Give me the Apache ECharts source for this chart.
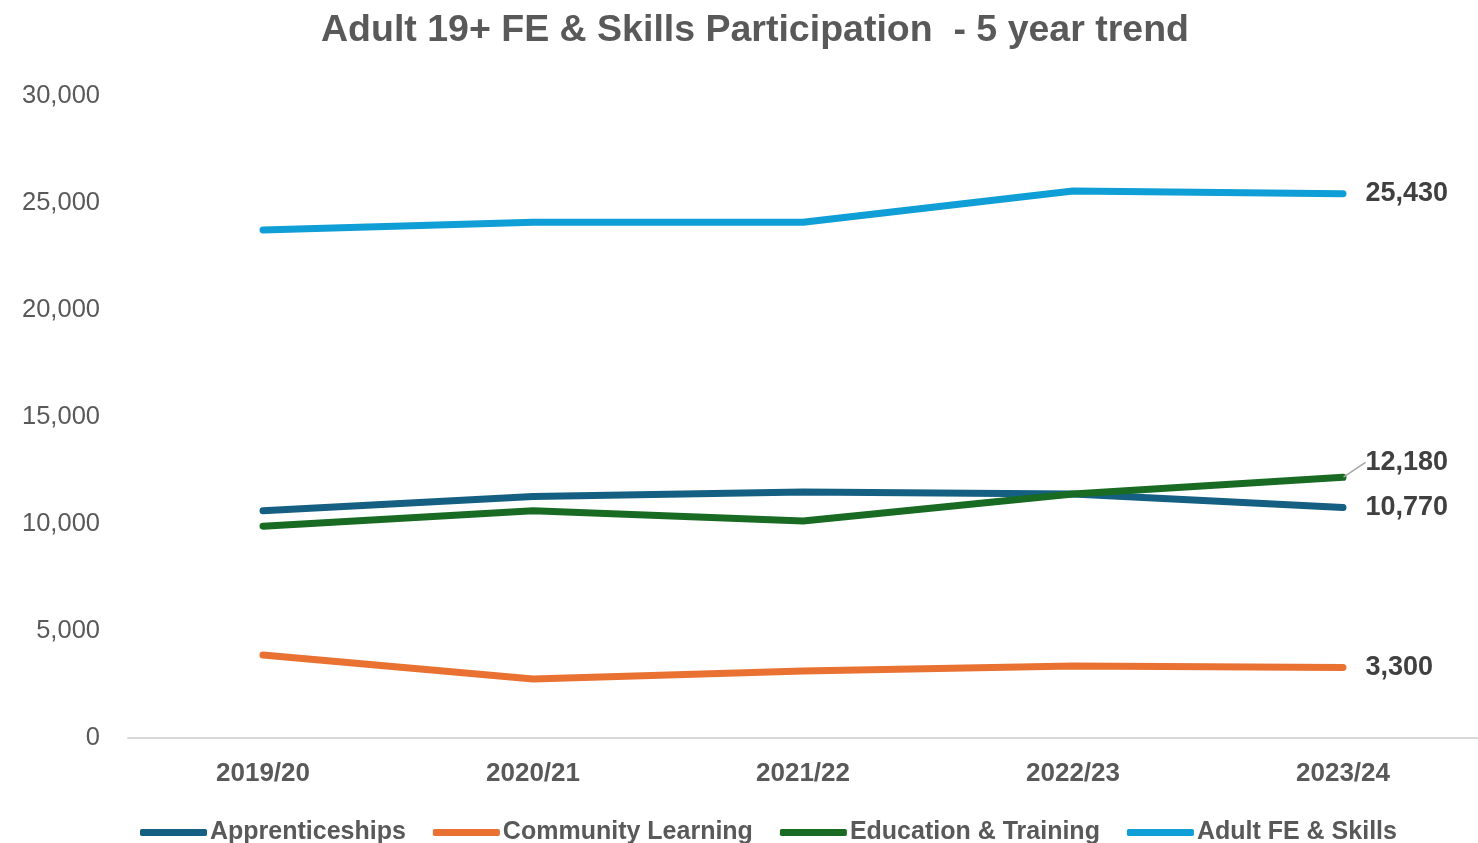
<!DOCTYPE html>
<html><head><meta charset="utf-8">
<script src="https://cdn.jsdelivr.net/npm/echarts@6/dist/echarts.min.js"></script>
<style>html,body{margin:0;padding:0;background:#fff}#c{width:1478px;height:843px}</style>
</head><body><div id="c"></div>
<script>
const categories = ['2019/20','2020/21','2021/22','2022/23','2023/24'];
const apprenticeships = [10620, 11280, 11500, 11400, 10770];
const communityLearning = [3880, 2760, 3130, 3360, 3300];
const educationTraining = [9900, 10620, 10140, 11400, 12180];
const adultFESkills = [23740, 24100, 24100, 25560, 25430];
const seriesNames = ['Apprenticeships','Community Learning','Education & Training','Adult FE & Skills'];
const seriesColors = ['#156082','#E97132','#196B24','#0F9ED5'];
const yTicks = {min:0, max:30000, interval:5000};

const FONT = '"Liberation Sans",Arial,sans-serif';
const fmt = v => v.toLocaleString('en-GB');
const last = categories.length - 1;

function mk(name, values, color, leader) {
  const data = values.map((v, i) => {
    if (i !== last) return v;
    const item = {value: v, label: {show: true}};
    if (leader) item.labelLine = {show: true, lineStyle: {color: '#a6a6a6', width: 1.5}};
    return item;
  });
  const s = {
    name, type:'line', data, symbol:'circle', symbolSize:1, showSymbol:true, showAllSymbol:true,
    smooth:false,
    lineStyle:{color, width:7, cap:'round', join:'round'},
    itemStyle:{color},
    label:{show:false, position:'right', distance:22,
      fontFamily:FONT, fontWeight:'bold', fontSize:27, color:'#404040',
      formatter: p => fmt(p.value)},
    labelLine:{show:false},
    emphasis:{disabled:true}
  };
  if (leader) s.labelLayout = p => p.dataIndex === last ? {dy: -15} : {};
  return s;
}

const chart = echarts.init(document.getElementById('c'), null, {renderer:'canvas'});
chart.setOption({
  animation:false,
  title:{text:'Adult 19+ FE & Skills Participation  - 5 year trend', left:750, textAlign:'center', top:7,
    textStyle:{fontFamily:FONT, fontWeight:'bold', fontSize:37.5, color:'#595959'}},
  grid:{left:128, right:0, top:96, bottom:105},
  legend:{data:seriesNames, left:140, top:820, padding:0, itemWidth:67, itemHeight:7, itemGap:27, icon:'roundRect',
    textStyle:{fontFamily:FONT, fontWeight:'bold', fontSize:25, color:'#595959', padding:[0,0,0,-2]}},
  xAxis:{type:'category', data:categories, boundaryGap:true,
    axisLine:{lineStyle:{color:'#d9d9d9', width:2}}, axisTick:{show:false},
    axisLabel:{fontFamily:FONT, fontWeight:'bold', fontSize:26, color:'#595959', margin:23}},
  yAxis:{type:'value', min:yTicks.min, max:yTicks.max, interval:yTicks.interval,
    splitLine:{show:false}, axisLine:{show:false}, axisTick:{show:false},
    axisLabel:{fontFamily:FONT, fontSize:25.5, color:'#595959', margin:28,
      formatter: v => fmt(v)}},
  series:[
    mk(seriesNames[0], apprenticeships, seriesColors[0], false),
    mk(seriesNames[1], communityLearning, seriesColors[1], false),
    mk(seriesNames[2], educationTraining, seriesColors[2], true),
    mk(seriesNames[3], adultFESkills, seriesColors[3], false)
  ]
});
</script></body></html>
